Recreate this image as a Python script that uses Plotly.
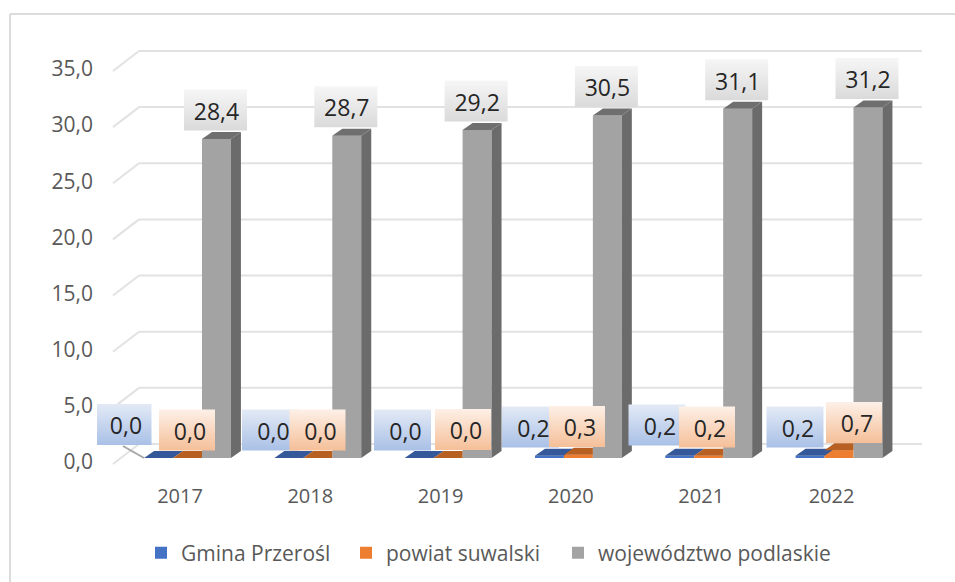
import plotly.graph_objects as go

# ---- data ----
years = ["2017", "2018", "2019", "2020", "2021", "2022"]
gmina = [0.0, 0.0, 0.0, 0.2, 0.2, 0.2]
powiat = [0.0, 0.0, 0.0, 0.3, 0.2, 0.7]
wojewodztwo = [28.4, 28.7, 29.2, 30.5, 31.1, 31.2]
y_ticks = [0, 5, 10, 15, 20, 25, 30, 35]
names = ["Gmina Przerośl", "powiat suwalski", "województwo podlaskie"]

# ---- label placement (pixel centres of the boxes) ----
gmina_label_x = [123, 270.5, 402.5, 530.5, 657, 795]
gmina_label_y = [424.5, 430, 430, 427, 425, 427]
powiat_label_x = [187, 317.5, 463, 577, 707, 854]
powiat_label_y = [430, 430, 429.5, 426.5, 427, 422.5]
legend_left_px = [141, 346, 558]

# ---- geometry ----
W, H = 955, 582
L, R, T, B = 97, 935, 20, 478     # plot area in pixels
STEP = 130.3                      # px per category
X0 = 187.5                        # px of first group centre
ZERO = 458                        # px of value 0 on bar fronts
PPU = 11.23                       # px per unit
xr = [(L - X0) / STEP, (R - X0) / STEP]
yr = [(ZERO - B) / PPU, (ZERO - T) / PPU]
def X(p): return (p - X0) / STEP
def Y(p): return (ZERO - p) / PPU
def DX(p): return p / STEP
def DY(p): return p / PPU

BAR_W = DX(28.96)
DEP_X, DEP_Y = DX(10), DY(7)
colors = ["#4472C4", "#ED7D31", "#A3A3A3"]
tops = ["#34589A", "#B85F22", "#6F6F6F"]
side = "#6B6B6B"
GRID = "#E2E2E2"
idx = list(range(len(years)))
legend_ids = ["legend", "legend2", "legend3"]
def fmt(v): return f"{v:.1f}".replace(".", ",")

fig = go.Figure()
series = [gmina, powiat, wojewodztwo]
for s, vals in enumerate(series):
    fig.add_trace(go.Bar(x=idx, y=vals, name=names[s], legend=legend_ids[s],
                         marker=dict(color=colors[s], line=dict(width=0)), hoverinfo="skip"))

def poly(xs, ys, color):
    fig.add_trace(go.Scatter(x=xs, y=ys, mode="lines", fill="toself", fillcolor=color,
                             line=dict(width=0, color=color), showlegend=False, hoverinfo="skip"))

for s, vals in enumerate(series):
    for i, v in zip(idx, vals):
        x0 = i + (s - 1.5) * BAR_W
        x1 = x0 + BAR_W
        if s == 2:
            poly([x1, x1 + DEP_X, x1 + DEP_X, x1, x1], [0, DEP_Y, v + DEP_Y, v, 0], side)
            poly([x0, x1, x1 + DEP_X, x0 + DEP_X, x0], [v, v, v + DEP_Y, v + DEP_Y, v], tops[s])
        elif s == 0:
            poly([x0, x1, x1 + DEP_X, x0 + DEP_X, x0], [v, v, v + DEP_Y, v + DEP_Y, v], tops[s])
        else:
            poly([x0, x1, x1, x0 + DEP_X, x0], [v, v, v + DEP_Y, v + DEP_Y, v], tops[s])

# leader line of the first label
fig.add_trace(go.Scatter(x=[X(123), 0 + (0 - 1.5) * BAR_W], y=[Y(446), gmina[0]], mode="lines",
                         line=dict(color="#A6A6A6", width=2), showlegend=False, hoverinfo="skip"))

def label_set(cx, cy, vals, w, h, c_top, c_bot, text_dx):
    for px, py in zip(cx, cy):
        x0, x1 = X(px - w / 2), X(px + w / 2)
        y0, y1 = Y(py + h / 2), Y(py - h / 2)
        fig.add_trace(go.Scatter(x=[x0, x1, x1, x0, x0], y=[y0, y0, y1, y1, y0], mode="lines",
                                 line=dict(width=0), fill="toself",
                                 fillgradient=dict(type="vertical", colorscale=[[0, c_bot], [1, c_top]]),
                                 showlegend=False, hoverinfo="skip"))
    fig.add_trace(go.Scatter(x=[X(p + text_dx) for p in cx], y=[Y(p + 4) for p in cy], mode="text",
                             text=[fmt(v) for v in vals], textposition="middle center",
                             textfont=dict(family="Open Sans", size=23, color="#262626"),
                             showlegend=False, hoverinfo="skip"))

label_set(gmina_label_x, gmina_label_y, gmina, 57, 41, "#E3EAF6", "#A9C0E6", 3)
label_set(powiat_label_x, powiat_label_y, powiat, 56, 41, "#FDF0E7", "#F5BF98", 3)
gray_x = [X0 + 28 + STEP * i for i in idx]
gray_y = [ZERO - PPU * v - 8.5 - 20.5 for v in wojewodztwo]
label_set(gray_x, gray_y, wojewodztwo, 63, 41, "#F6F6F6", "#DADADA", 1)

# ---- grid on the back wall, running forward on the left ----
WALL_X0, WALL_X1 = X(139), X(922)
FRONT_X = X(113)
WALL_DY = DY(14)
FRONT_DY = DY(-6)
shapes = []
for t in y_ticks:
    line = dict(color=GRID, width=2)
    shapes.append(dict(type="line", layer="below", xref="x", yref="y", x0=WALL_X0, x1=WALL_X1,
                       y0=t + WALL_DY, y1=t + WALL_DY, line=line))
    shapes.append(dict(type="line", layer="below", xref="x", yref="y", x0=FRONT_X, x1=WALL_X0,
                       y0=t + FRONT_DY, y1=t + WALL_DY, line=line))
# chart frame: top and left edges
frame = dict(color="#DCDCDC", width=2)
shapes.append(dict(type="line", xref="paper", yref="paper", layer="below",
                   x0=(10 - L) / (R - L), x1=(W + 5 - L) / (R - L),
                   y0=(B - 14) / (B - T), y1=(B - 14) / (B - T), line=frame))
shapes.append(dict(type="line", xref="paper", yref="paper", layer="below",
                   x0=(10 - L) / (R - L), x1=(10 - L) / (R - L),
                   y0=(B - 14) / (B - T), y1=(B - H - 5) / (B - T), line=frame))

def legend_at(px):
    return dict(orientation="h", xref="container", yref="container", x=px / W, xanchor="left",
                y=(H - 553) / H, yanchor="middle",
                font=dict(family="Open Sans", size=21, color="#595959"), bgcolor="rgba(0,0,0,0)",
                itemclick=False, itemdoubleclick=False)

fig.update_layout(
    width=W, height=H, autosize=False,
    margin=dict(l=L, r=W - R, t=T, b=H - B, pad=0, autoexpand=False),
    paper_bgcolor="white", plot_bgcolor="rgba(0,0,0,0)",
    barmode="group", bargap=1 / 3, bargroupgap=0,
    font=dict(family="Open Sans", size=20, color="#595959"),
    shapes=shapes,
    showlegend=True,
    legend=legend_at(legend_left_px[0]),
    legend2=legend_at(legend_left_px[1]),
    legend3=legend_at(legend_left_px[2]),
    xaxis=dict(range=xr, tickmode="array", tickvals=[i - 7.5 / STEP for i in idx], ticktext=years,
               showgrid=False, zeroline=False, showline=False, ticks="", ticklabelstandoff=4,
               tickfont=dict(family="Open Sans", size=20, color="#595959")),
    yaxis=dict(range=yr, tickmode="array", tickvals=[t - 0.35 for t in y_ticks], ticktext=[fmt(t) for t in y_ticks],
               showgrid=False, zeroline=False, showline=False, ticks="", ticklabelstandoff=3,
               tickfont=dict(family="Open Sans", size=21, color="#595959")),
)

fig.write_html("out.html", config=dict(displayModeBar=False),
               post_script="document.body.style.margin='0';document.body.style.overflow='hidden';")
